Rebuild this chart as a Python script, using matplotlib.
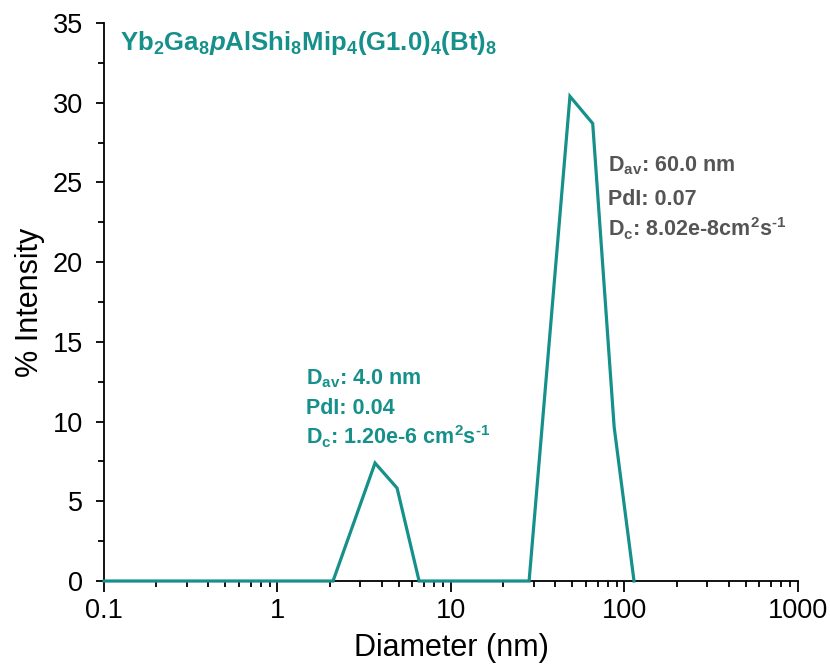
import matplotlib
matplotlib.use("Agg")
import matplotlib.pyplot as plt
from matplotlib.ticker import LogLocator, MultipleLocator, FixedLocator, NullFormatter

# Size distribution by intensity
diameter_nm = [0.1, 2.09, 3.65, 4.89, 6.55, 28.2, 48.5, 65.6, 87.2, 113.5]
intensity_pct = [0, 0, 7.4, 5.83, 0, 0, 30.4, 28.7, 9.66, 0]

x_ticks = [0.1, 1, 10, 100, 1000]
x_tick_labels = ["0.1", "1", "10", "100", "1000"]
y_ticks = [0, 5, 10, 15, 20, 25, 30, 35]

title = (r"$\mathbf{Yb_{2}Ga_{8}}\mathbfit{p}"
         r"\mathbf{AlShi_{8}Mip_{4}(G1.0)_{4}(Bt)_{8}}$")

small_peak_lines = [r"D$_{\text{av}}$: 4.0 nm",
                    "PdI: 0.04",
                    r"D$_{\text{c}}$: 1.20e-6 cm$^{\text{2}}$s$^{\text{-1}}$"]
large_peak_lines = [r"D$_{\text{av}}$: 60.0 nm",
                    "PdI: 0.07",
                    r"D$_{\text{c}}$: 8.02e-8cm$^{\text{2}}$s$^{\text{-1}}$"]

TEAL = "#16908a"
GREY = "#555555"

plt.rcParams["font.family"] = ["Liberation Sans", "DejaVu Sans"]
plt.rcParams["mathtext.fontset"] = "custom"
plt.rcParams["mathtext.rm"] = "Liberation Sans:bold"
plt.rcParams["mathtext.it"] = "Liberation Sans:italic"
plt.rcParams["mathtext.bf"] = "Liberation Sans:bold"
plt.rcParams["mathtext.bfit"] = "Liberation Sans:bold:italic"

fig = plt.figure(figsize=(8.30, 6.67), dpi=100)
ax = fig.add_axes([0.1253, 0.1289, 0.8361, 0.8366])

ax.plot(diameter_nm, intensity_pct, color=TEAL, lw=2.3, clip_on=False,
        solid_joinstyle="miter", zorder=3)

ax.set_xscale("log")
ax.set_xlim(0.1, 1000)
ax.set_ylim(0, 35)

ax.xaxis.set_major_locator(FixedLocator(x_ticks))
ax.set_xticklabels(x_tick_labels)
ax.xaxis.set_minor_locator(LogLocator(base=10, subs=range(2, 10), numticks=20))
ax.xaxis.set_minor_formatter(NullFormatter())
ax.yaxis.set_major_locator(FixedLocator(y_ticks))
ax.yaxis.set_minor_locator(MultipleLocator(2.5))

for side in ("top", "right"):
    ax.spines[side].set_visible(False)
for side in ("left", "bottom"):
    ax.spines[side].set_linewidth(1.3)

ax.tick_params(axis="x", which="major", direction="out", length=8, width=1.3,
               labelsize=19.5, pad=4)
ax.tick_params(axis="y", which="major", direction="out", length=6, width=1.3,
               labelsize=19.5, pad=9)
ax.tick_params(axis="x", which="minor", direction="out", length=4, width=1.3)
ax.tick_params(axis="y", which="minor", direction="out", length=4, width=1.3)

ax.set_xlabel("Diameter (nm)", fontsize=22, labelpad=7)
ax.set_ylabel("% Intensity", fontsize=22, labelpad=6)

ax.text(0.023, 0.99, title, transform=ax.transAxes, color=TEAL,
        fontsize=18.5, va="top", ha="left")

for txt, yv in zip(small_peak_lines, [12.33, 10.45, 8.6]):
    ax.text(1.46, yv, txt, color=TEAL, fontsize=15.5, fontweight="bold",
            va="baseline", ha="left")
for txt, yv in zip(large_peak_lines, [25.68, 23.58, 21.6]):
    ax.text(80.4, yv, txt, color=GREY, fontsize=15.5, fontweight="bold",
            va="baseline", ha="left")

fig.savefig("out.png", dpi=100)
